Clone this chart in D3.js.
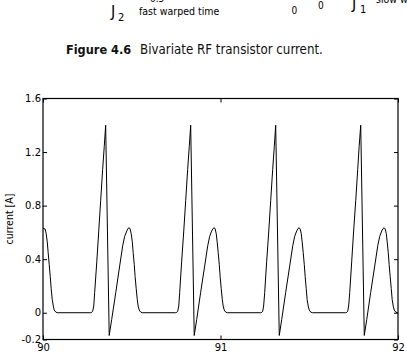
<!DOCTYPE html>
<html>
<head>
<meta charset="utf-8">
<script src="https://cdnjs.cloudflare.com/ajax/libs/d3/7.8.5/d3.min.js"></script>
<style>
body { margin: 0; background: #fff; }
svg { display: block; }
</style>
</head>
<body>
<script>
// Transistor current vs. slow time (one row per cycle)
const time = [
90.000, 90.012, 90.018, 90.024, 90.029, 90.035, 90.041, 90.046, 90.052, 90.058, 90.063, 90.072, 90.080,
90.269, 90.274, 90.280, 90.286, 90.291, 90.303, 90.314, 90.325, 90.336, 90.345, 90.353, 90.373, 90.387, 90.410, 90.432, 90.449, 90.460, 90.472, 90.480, 90.486, 90.491, 90.497, 90.503, 90.508, 90.514, 90.519, 90.525, 90.531, 90.536, 90.542, 90.550, 90.559,
90.748, 90.753, 90.759, 90.765, 90.770, 90.781, 90.793, 90.804, 90.815, 90.824, 90.832, 90.852, 90.866, 90.888, 90.911, 90.928, 90.939, 90.950, 90.959, 90.965, 90.970, 90.976, 90.981, 90.987, 90.993, 90.998, 91.004, 91.010, 91.015, 91.021, 91.029, 91.038,
91.227, 91.232, 91.238, 91.243, 91.249, 91.260, 91.272, 91.283, 91.294, 91.303, 91.311, 91.331, 91.345, 91.367, 91.390, 91.407, 91.418, 91.429, 91.438, 91.443, 91.449, 91.455, 91.460, 91.466, 91.472, 91.477, 91.483, 91.488, 91.494, 91.500, 91.508, 91.517,
91.705, 91.711, 91.717, 91.722, 91.728, 91.739, 91.750, 91.762, 91.773, 91.781, 91.790, 91.810, 91.824, 91.846, 91.869, 91.886, 91.897, 91.908, 91.917, 91.922, 91.928, 91.934, 91.939, 91.945, 91.950, 91.956, 91.962, 91.967, 91.973, 91.979, 91.987, 91.996, 92.000
];
const current = [
0.63, 0.625, 0.59, 0.53, 0.45, 0.36, 0.27, 0.18, 0.10, 0.05, 0.02, 0.005, 0,
0, 0.002, 0.012, 0.05, 0.15, 0.38, 0.61, 0.84, 1.07, 1.24, 1.40, -0.17, -0.05, 0.15, 0.35, 0.50, 0.57, 0.61, 0.63, 0.635, 0.625, 0.59, 0.53, 0.45, 0.36, 0.27, 0.18, 0.10, 0.05, 0.02, 0.005, 0,
0, 0.002, 0.012, 0.05, 0.15, 0.38, 0.61, 0.84, 1.07, 1.24, 1.40, -0.17, -0.05, 0.15, 0.35, 0.50, 0.57, 0.61, 0.63, 0.635, 0.625, 0.59, 0.53, 0.45, 0.36, 0.27, 0.18, 0.10, 0.05, 0.02, 0.005, 0,
0, 0.002, 0.012, 0.05, 0.15, 0.38, 0.61, 0.84, 1.07, 1.24, 1.40, -0.17, -0.05, 0.15, 0.35, 0.50, 0.57, 0.61, 0.63, 0.635, 0.625, 0.59, 0.53, 0.45, 0.36, 0.27, 0.18, 0.10, 0.05, 0.02, 0.005, 0,
0, 0.002, 0.012, 0.05, 0.15, 0.38, 0.61, 0.84, 1.07, 1.24, 1.40, -0.17, -0.05, 0.15, 0.35, 0.50, 0.57, 0.61, 0.63, 0.635, 0.625, 0.59, 0.53, 0.45, 0.36, 0.27, 0.18, 0.10, 0.05, 0.02, 0.005, 0, 0
];

const xTicks = [90, 91, 92];
const yTicks = [-0.2, 0, 0.4, 0.8, 1.2, 1.6];
const yTickLabels = ["-0.2", "0", "0.4", "0.8", "1.2", "1.6"];

const width = 407;
const height = 354;
const plot = {left: 43, right: 398, top: 98.5, bottom: 339.5};

const svg = d3.select("body")
.append("svg")
.attr("width", width)
.attr("height", height);

// leftovers of the previous figure, cut off at the top of the page
const header = svg.append("g")
.attr("font-family", "DejaVu Sans Condensed, DejaVu Sans, sans-serif")
.attr("fill", "#000");
header.append("text").attr("x", 111).attr("y", 17).attr("font-size", "16px").text("J");
header.append("text").attr("x", 118).attr("y", 21).attr("font-size", "11px").text("2");
header.append("text").attr("x", 150).attr("y", 2).attr("font-size", "10px").text("0.5");
header.append("text").attr("x", 139).attr("y", 14.5).attr("font-size", "10.5px").text("fast warped time");
header.append("text").attr("x", 291.5).attr("y", 14).attr("font-size", "10px").text("0");
header.append("text").attr("x", 318).attr("y", 8.5).attr("font-size", "10px").text("0");
header.append("text").attr("x", 352).attr("y", 9).attr("font-size", "16px").text("J");
header.append("text").attr("x", 360).attr("y", 13).attr("font-size", "11px").text("1");
header.append("text").attr("x", 376).attr("y", 3).attr("font-size", "10.5px").text("slow warped time");

// caption
const cap = svg.append("text")
.attr("x", 66)
.attr("y", 53.5)
.attr("font-family", "DejaVu Sans Condensed, DejaVu Sans, sans-serif")
.attr("font-size", "13.2px")
.attr("fill", "#111");
cap.append("tspan").attr("font-weight", "bold").attr("font-size", "12.6px").text("Figure 4.6");
cap.append("tspan").attr("dx", 9).text("Bivariate RF transistor current.");

const xScale = d3.scaleLinear()
.domain([90, 92])
.range([plot.left, plot.right]);

const yScale = d3.scaleLinear()
.domain([-0.2, 1.6])
.range([plot.bottom, plot.top]);

// inward ticks on all four sides, matplotlib style
const tickLen = 4;
const xAxis = d3.axisBottom(xScale).tickValues(xTicks).tickSizeInner(-tickLen).tickSizeOuter(0)
.tickPadding(4).tickFormat(d3.format("d"));
const xAxisTop = d3.axisTop(xScale).tickValues(xTicks).tickSizeInner(-tickLen).tickSizeOuter(0).tickFormat("");
const yAxis = d3.axisLeft(yScale).tickValues(yTicks).tickSizeInner(-tickLen).tickSizeOuter(0)
.tickPadding(2).tickFormat(function(d, i){ return yTickLabels[i]; });
const yAxisRight = d3.axisRight(yScale).tickValues(yTicks).tickSizeInner(-tickLen).tickSizeOuter(0).tickFormat("");

function styleAxis(g) {
g.select(".domain").remove();
g.selectAll("line").attr("stroke", "#000");
g.selectAll("text")
.attr("font-family", "DejaVu Sans, sans-serif")
.attr("font-size", "10px")
.attr("fill", "#000");
}

svg.append("g").attr("transform", "translate(0," + plot.bottom + ")").call(xAxis).call(styleAxis);
svg.append("g").attr("transform", "translate(0," + plot.top + ")").call(xAxisTop).call(styleAxis);
svg.append("g").attr("transform", "translate(" + plot.left + ",0)").call(yAxis).call(styleAxis);
svg.append("g").attr("transform", "translate(" + plot.right + ",0)").call(yAxisRight).call(styleAxis);

// frame
svg.append("rect")
.attr("x", plot.left)
.attr("y", plot.top)
.attr("width", plot.right - plot.left)
.attr("height", plot.bottom - plot.top)
.attr("fill", "none")
.attr("stroke", "#000")
.attr("stroke-width", 1.2);

// axis label
svg.append("text")
.attr("transform", "rotate(-90)")
.attr("x", -(plot.top + plot.bottom) / 2)
.attr("y", 13)
.attr("text-anchor", "middle")
.attr("font-family", "DejaVu Sans Condensed, DejaVu Sans, sans-serif")
.attr("font-size", "10.5px")
.text("current [A]");

// the waveform
const line = d3.line()
.x(function(d){ return xScale(d[0]); })
.y(function(d){ return yScale(d[1]); });

svg.append("path")
.datum(d3.zip(time, current))
.attr("d", line)
.attr("fill", "none")
.attr("stroke", "#000")
.attr("stroke-width", 1);
</script>
</body>
</html>
